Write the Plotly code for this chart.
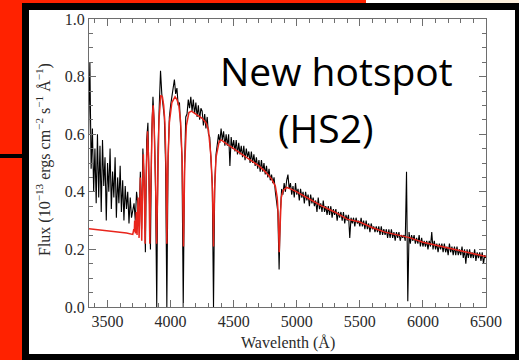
import plotly.graph_objects as go

# Observed spectrum, sampled every 10 Å from 3350 Å to 6500 Å
obs_wavelength = list(range(3350, 6510, 10))
obs_flux = [
    0.60, 0.85, 0.48, 0.62, 0.40, 0.55, 0.36, 0.60, 0.38, 0.56,  # 3350
    0.33, 0.58, 0.42, 0.52, 0.30, 0.50, 0.40, 0.55, 0.34, 0.47,  # 3450
    0.38, 0.52, 0.31, 0.45, 0.36, 0.49, 0.33, 0.44, 0.30, 0.42,  # 3550
    0.34, 0.40, 0.29, 0.38, 0.31, 0.33, 0.36, 0.30, 0.40, 0.36,  # 3650
    0.30, 0.47, 0.27, 0.55, 0.45, 0.19, 0.58, 0.64, 0.40, 0.20,  # 3750
    0.60, 0.73, 0.64, 0.42, 0.00, 0.55, 0.70, 0.82, 0.74, 0.70,  # 3850
    0.66, 0.50, 0.00, 0.52, 0.66, 0.70, 0.74, 0.76, 0.79, 0.74,  # 3950
    0.76, 0.70, 0.71, 0.62, 0.52, 0.00, 0.47, 0.66, 0.67, 0.72,  # 4050
    0.69, 0.73, 0.68, 0.72, 0.67, 0.71, 0.66, 0.70, 0.65, 0.69,  # 4150
    0.68, 0.63, 0.67, 0.62, 0.66, 0.60, 0.59, 0.51, 0.43, 0.00,  # 4250
    0.43, 0.53, 0.57, 0.60, 0.57, 0.62, 0.58, 0.61, 0.56, 0.60,  # 4350
    0.56, 0.60, 0.49, 0.59, 0.55, 0.58, 0.54, 0.58, 0.53, 0.57,  # 4450
    0.53, 0.56, 0.52, 0.56, 0.51, 0.55, 0.52, 0.54, 0.50, 0.54,  # 4550
    0.50, 0.53, 0.49, 0.52, 0.48, 0.51, 0.47, 0.51, 0.47, 0.50,  # 4650
    0.46, 0.49, 0.45, 0.48, 0.44, 0.46, 0.43, 0.45, 0.40, 0.37,  # 4750
    0.33, 0.13, 0.33, 0.41, 0.39, 0.43, 0.40, 0.44, 0.46, 0.41,  # 4850
    0.43, 0.39, 0.42, 0.38, 0.43, 0.39, 0.41, 0.37, 0.41, 0.38,  # 4950
    0.40, 0.36, 0.40, 0.37, 0.39, 0.35, 0.39, 0.36, 0.38, 0.35,  # 5050
    0.37, 0.33, 0.38, 0.34, 0.36, 0.33, 0.37, 0.33, 0.35, 0.32,  # 5150
    0.35, 0.32, 0.35, 0.31, 0.34, 0.32, 0.34, 0.30, 0.33, 0.31,  # 5250
    0.33, 0.30, 0.33, 0.29, 0.32, 0.30, 0.32, 0.24, 0.31, 0.29,  # 5350
    0.31, 0.28, 0.31, 0.29, 0.30, 0.28, 0.31, 0.28, 0.30, 0.27,  # 5450
    0.30, 0.27, 0.29, 0.26, 0.29, 0.27, 0.28, 0.26, 0.28, 0.26,  # 5550
    0.28, 0.25, 0.28, 0.25, 0.27, 0.25, 0.27, 0.24, 0.27, 0.24,  # 5650
    0.27, 0.24, 0.26, 0.23, 0.26, 0.24, 0.26, 0.23, 0.25, 0.24,  # 5750
    0.25, 0.23, 0.47, 0.02, 0.26, 0.22, 0.25, 0.23, 0.25, 0.22,  # 5850
    0.24, 0.22, 0.25, 0.21, 0.24, 0.21, 0.23, 0.21, 0.23, 0.20,  # 5950
    0.23, 0.21, 0.26, 0.20, 0.23, 0.20, 0.22, 0.19, 0.22, 0.20,  # 6050
    0.22, 0.19, 0.22, 0.19, 0.21, 0.18, 0.22, 0.19, 0.21, 0.18,  # 6150
    0.21, 0.18, 0.21, 0.18, 0.20, 0.18, 0.21, 0.17, 0.20, 0.15,  # 6250
    0.20, 0.17, 0.20, 0.17, 0.19, 0.17, 0.20, 0.16, 0.19, 0.17,  # 6350
    0.19, 0.16, 0.19, 0.15, 0.18, 0.17,                          # 6450
]

# Model spectrum (Balmer series in absorption)
model_wavelength = [
    3353, 3400, 3500, 3600, 3650, 3700, 3708, 3712, 3715, 3721,
    3725, 3728, 3734, 3738, 3742, 3747, 3750, 3754, 3760, 3767,
    3771, 3775, 3784, 3792, 3798, 3803, 3810, 3817, 3826, 3832,
    3835, 3838, 3845, 3855, 3862, 3870, 3880, 3886, 3889, 3892,
    3898, 3908, 3922, 3935, 3945, 3955, 3964, 3968, 3970, 3972,
    3977, 3990, 4010, 4035, 4050, 4065, 4080, 4092, 4098, 4102,
    4106, 4112, 4125, 4145, 4165, 4200, 4250, 4280, 4300, 4320,
    4332, 4338, 4340, 4342, 4348, 4360, 4385, 4400, 4450, 4500,
    4600, 4700, 4750, 4800, 4830, 4845, 4853, 4858, 4861, 4864,
    4869, 4877, 4892, 4920, 4950, 5000, 5100, 5200, 5300, 5400,
    5500, 5600, 5700, 5800, 5900, 6000, 6100, 6200, 6300, 6400,
    6500,
]
model_flux = [
    0.272, 0.270, 0.265, 0.260, 0.257, 0.252, 0.270, 0.262, 0.300, 0.255,
    0.300, 0.330, 0.250, 0.320, 0.380, 0.300, 0.240, 0.300, 0.450, 0.350,
    0.230, 0.350, 0.530, 0.400, 0.220, 0.400, 0.570, 0.610, 0.500, 0.320,
    0.220, 0.320, 0.520, 0.660, 0.700, 0.620, 0.450, 0.300, 0.220, 0.300,
    0.480, 0.650, 0.735, 0.730, 0.700, 0.640, 0.480, 0.300, 0.220, 0.300,
    0.480, 0.640, 0.710, 0.730, 0.720, 0.700, 0.640, 0.500, 0.330, 0.210,
    0.330, 0.500, 0.630, 0.675, 0.680, 0.670, 0.655, 0.640, 0.615, 0.520,
    0.400, 0.270, 0.210, 0.270, 0.400, 0.520, 0.575, 0.580, 0.565, 0.550,
    0.520, 0.490, 0.470, 0.445, 0.420, 0.380, 0.320, 0.240, 0.190, 0.240,
    0.320, 0.380, 0.405, 0.415, 0.410, 0.400, 0.375, 0.350, 0.330, 0.305,
    0.295, 0.275, 0.260, 0.250, 0.240, 0.225, 0.215, 0.205, 0.195, 0.185,
    0.175,
]

x_ticks = [3500, 4000, 4500, 5000, 5500, 6000, 6500]
y_ticks = [0.0, 0.2, 0.4, 0.6, 0.8, 1.0]
y_tick_labels = ["0.0", "0.2", "0.4", "0.6", "0.8", "1.0"]

W, H = 519, 360
ML, MR, MT, MB = 89, 33, 19, 53
PW, PH = W - ML - MR, H - MT - MB

SLIDE_RED = "#ff2200"
MODEL_RED = "#e8251c"
AXIS_GREY = "#6e6e6e"
SERIF = "Liberation Serif, Times New Roman, serif"


def to_paper(xp, yp):
    """Pixel position on the page -> paper coordinates of the plot area."""
    return (xp - ML) / PW, (H - MB - yp) / PH


def slide_rect(x0, y0, x1, y1, color):
    a = to_paper(x0, y0)
    b = to_paper(x1, y1)
    return dict(type="rect", xref="paper", yref="paper", layer="below",
                x0=a[0], y0=b[1], x1=b[0], y1=a[1],
                fillcolor=color, line=dict(width=0))


fig = go.Figure()
fig.add_trace(go.Scatter(x=obs_wavelength, y=obs_flux, mode="lines",
                         line=dict(color="black", width=1.1), showlegend=False))
fig.add_trace(go.Scatter(x=model_wavelength, y=model_flux, mode="lines",
                         line=dict(color=MODEL_RED, width=1.5), showlegend=False))

shapes = [
    slide_rect(366, 0, 440, 3, "#ffffff"),
    slide_rect(440, 0, 519, 3, "#fcefdc"),
    slide_rect(22, 3, 519, 360, "#000000"),
    slide_rect(29, 10, 515, 354, "#ffffff"),
    slide_rect(0, 154, 22, 158, "#000000"),
]

axis_style = dict(
    showline=True, linecolor=AXIS_GREY, linewidth=1, mirror="ticks",
    ticks="inside", ticklen=7, tickwidth=1, tickcolor=AXIS_GREY,
    showgrid=False, zeroline=False,
    tickfont=dict(family=SERIF, size=16, color="#2a2a2a"),
)

fig.update_xaxes(range=[3353, 6500], tickmode="array", tickvals=x_ticks,
                 ticktext=[str(v) for v in x_ticks],
                 minor=dict(tickmode="linear", tick0=3500, dtick=100,
                            ticks="inside", ticklen=4, tickcolor=AXIS_GREY),
                 **axis_style)
fig.update_yaxes(range=[0, 1], tickmode="array", tickvals=y_ticks,
                 ticktext=y_tick_labels,
                 minor=dict(tickmode="linear", tick0=0, dtick=0.05,
                            ticks="inside", ticklen=4, tickcolor=AXIS_GREY),
                 **axis_style)

annotations = []
xt = to_paper(288, 343)
annotations.append(dict(text="Wavelenth (Å)", x=xt[0], y=xt[1], xref="paper", yref="paper",
                        showarrow=False, xanchor="center", yanchor="middle",
                        font=dict(family=SERIF, size=16, color="#2a2a2a")))
yt = to_paper(43, 160)
annotations.append(dict(text="Flux (10<sup>−13</sup> ergs cm<sup>−2</sup> s<sup>−1</sup> Å<sup>−1</sup>)",
                        x=yt[0], y=yt[1], xref="paper", yref="paper", textangle=-90,
                        showarrow=False, xanchor="center", yanchor="middle",
                        font=dict(family=SERIF, size=16, color="#2a2a2a")))
l1 = to_paper(336, 70)
annotations.append(dict(text="New hotspot", x=l1[0], y=l1[1], xref="paper", yref="paper",
                        showarrow=False, xanchor="center", yanchor="middle",
                        font=dict(family="Open Sans", size=39, color="black")))
l2 = to_paper(325, 127)
annotations.append(dict(text="(HS2)", x=l2[0], y=l2[1], xref="paper", yref="paper",
                        showarrow=False, xanchor="center", yanchor="middle",
                        font=dict(family="Open Sans", size=39, color="black")))

fig.update_layout(
    width=W, height=H,
    margin=dict(l=ML, r=MR, t=MT, b=MB, pad=0),
    paper_bgcolor=SLIDE_RED,
    plot_bgcolor="rgba(0,0,0,0)",
    shapes=shapes,
    annotations=annotations,
    showlegend=False,
)

fig.write_html("out.html")
